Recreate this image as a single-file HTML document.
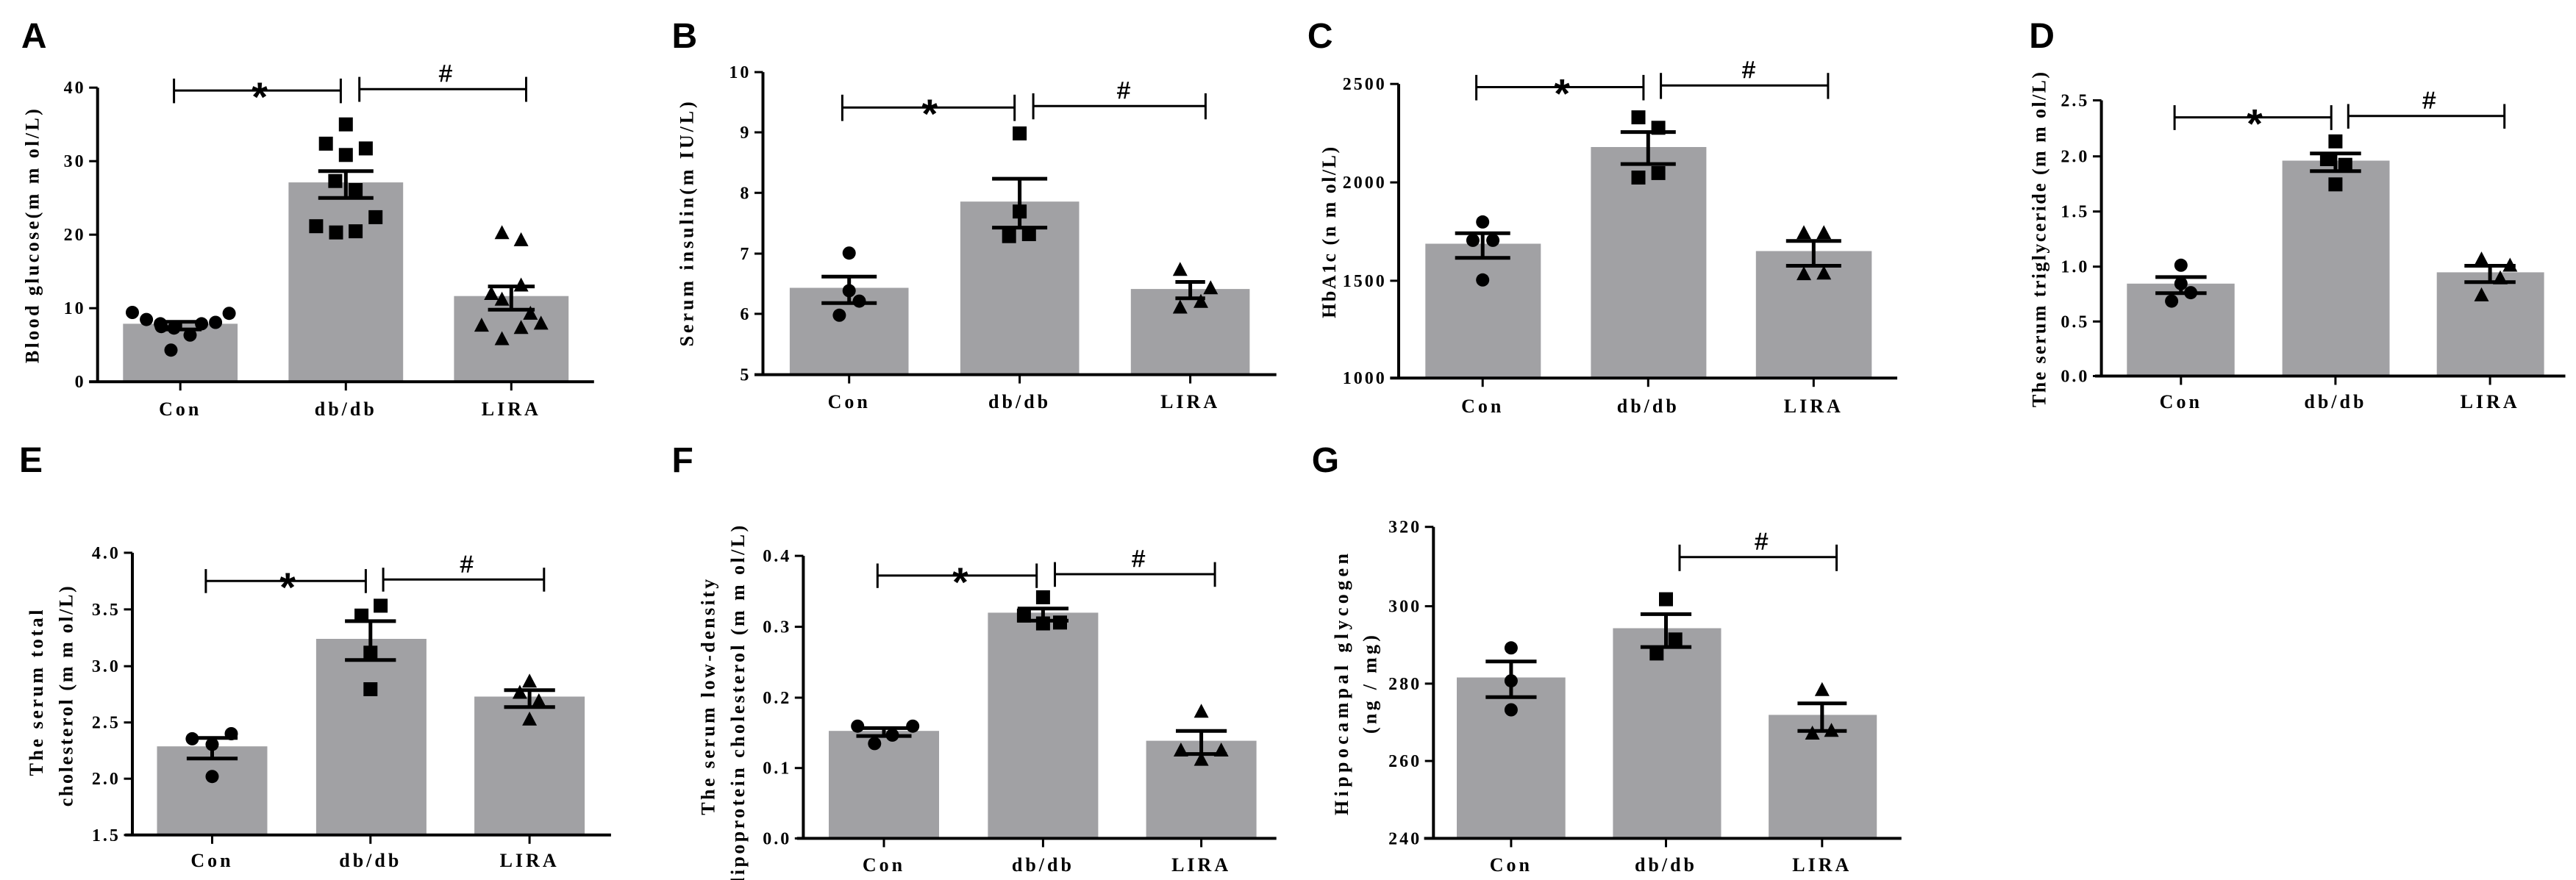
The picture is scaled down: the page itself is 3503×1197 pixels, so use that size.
<!DOCTYPE html>
<html><head><meta charset="utf-8"><style>
html,body{margin:0;padding:0;background:#fff;width:3503px;height:1197px;overflow:hidden}
svg{display:block}
</style></head><body>
<svg id="s" width="3503" height="1197" viewBox="0 0 3503 1197" xmlns="http://www.w3.org/2000/svg">
<rect width="3503" height="1197" fill="#fff"/>
</svg>
<script>
var P=[
{L:'A',ox:0,oy:0,fx:1.733,fy:2.6,lx:50,ax:230,yt:[[310,'40'],[570,'30'],[830,'20'],[1090,'10'],[1350,'0']],xa:[210,1400,1350],xt:[425,815,1205],
bars:[[290,560,1145],[680,950,645],[1070,1340,1047]],err:[[425,1138,1165,50],[815,605,700,65],[1205,1013,1095,55]],
c:[[312,1105],[345,1130],[378,1145],[410,1160],[448,1185],[475,1145],[508,1140],[540,1108],[403,1238],[380,1155]],
s:[[815,440],[768,508],[862,525],[815,548],[790,640],[838,672],[885,768],[745,800],[792,822],[838,818]],
t:[[1183,825],[1228,850],[1228,1010],[1158,1040],[1183,1060],[1250,1110],[1135,1152],[1228,1160],[1275,1145],[1183,1200]],
br:[[410,803,320,278,365,'*',612],[847,1240,315,272,360,'#',1050]],
yl:[['Blood glucose(m m ol/L)',75,385,1285]],cy:1445},
{L:'B',ox:850,oy:0,fx:1.733,fy:2.6,lx:110,ax:325,yt:[[255,'10'],[468,'9'],[682,'8'],[897,'7'],[1110,'6'],[1325,'5']],xa:[305,1535,1325],xt:[528,930,1332],
bars:[[388,668,1018],[790,1070,713],[1192,1472,1022]],err:[[528,978,1072,65],[930,632,805,65],[1332,997,1055,35]],
c:[[528,895],[528,1028],[552,1065],[505,1115]],s:[[930,472],[930,748],[905,835],[952,828]],t:[[1308,955],[1380,1020],[1357,1068],[1308,1088]],
br:[[512,918,380,335,428,'*',718],[962,1368,375,330,422,'#',1175]],
yl:[['Serum insulin(m IU/L)',145,360,1225]],cy:1420},
{L:'C',ox:1700,oy:0,fx:1.733,fy:2.6,lx:135,ax:350,yt:[[297,'2500'],[645,'2000'],[993,'1500'],[1337,'1000']],xa:[330,1525,1337],xt:[548,938,1328],
bars:[[413,685,862],[803,1075,520],[1192,1465,888]],err:[[548,825,912,65],[938,467,580,65],[1328,852,940,65]],
c:[[548,785],[525,850],[572,850],[548,990]],s:[[915,415],[962,452],[915,628],[962,612]],t:[[1305,825],[1352,825],[1305,970],[1352,968]],
br:[[533,927,308,265,355,'*',735],[968,1362,302,258,350,'#',1175]],
yl:[['HbA1c (n m ol/L)',185,520,1125]],cy:1435},
{L:'D',ox:2600,oy:0,fx:1.7276,fy:2.6,lx:275,ax:445,yt:[[355,'2.5'],[553,'2.0'],[748,'1.5'],[943,'1.0'],[1137,'0.5'],[1330,'0.0']],xa:[430,1535,1330],xt:[632,995,1358],
bars:[[505,758,1003],[870,1122,568],[1233,1485,963]],err:[[632,980,1037,60],[995,543,605,60],[1358,940,998,60]],
c:[[632,938],[632,1003],[655,1035],[610,1065]],s:[[995,500],[975,563],[1018,583],[995,652]],t:[[1338,918],[1405,940],[1382,985],[1338,1045]],
br:[[617,985,415,372,460,'*',805],[1025,1392,410,368,455,'#',1215]],
yl:[['The serum triglyceride (m m ol/L)',298,255,1440]],cy:1420},
{L:'E',ox:0,oy:600,fx:1.733,fy:2.613,lx:45,ax:312,yt:[[397,'4.0'],[598,'3.5'],[800,'3.0'],[1000,'2.5'],[1200,'2.0'],[1400,'1.5']],xa:[295,1440,1400],xt:[500,873,1248],
bars:[[370,630,1085],[745,1005,703],[1118,1378,908]],err:[[500,1055,1128,60],[873,640,778,60],[1248,885,945,60]],
c:[[453,1058],[545,1040],[500,1078],[500,1192]],s:[[852,620],[897,585],[873,752],[873,882]],t:[[1225,895],[1270,925],[1248,855],[1248,990]],
br:[[485,862,497,455,540,'*',678],[903,1282,492,450,535,'#',1100]],
yl:[['The serum total',85,600,1190],['cholesterol (m m ol/L)',155,515,1300]],cy:1490},
{L:'F',ox:850,oy:600,fx:1.733,fy:2.613,lx:110,ax:420,yt:[[408,'0.4'],[660,'0.3'],[912,'0.2'],[1162,'0.1'],[1412,'0.0']],xa:[405,1535,1412],xt:[610,985,1358],
bars:[[480,740,1030],[855,1115,610],[1228,1488,1065]],err:[[610,1020,1048,65],[985,595,638,60],[1358,1030,1112,60]],
c:[[548,1013],[678,1013],[630,1045],[588,1075]],s:[[985,555],[940,620],[1025,645],[985,648]],t:[[1358,962],[1310,1100],[1405,1100],[1358,1133]],
br:[[595,970,478,435,522,'*',790],[1013,1390,473,430,518,'#',1210]],
yl:[['The serum low-density',195,490,1330],['lipoprotein cholesterol (m m ol/L)',265,300,1570]],cy:1505},
{L:'G',ox:1700,oy:600,fx:1.733,fy:2.613,lx:145,ax:432,yt:[[305,'320'],[587,'300'],[862,'280'],[1137,'260'],[1412,'240']],xa:[410,1535,1412],xt:[615,980,1348],
bars:[[487,743,840],[855,1110,665],[1222,1477,973]],err:[[615,783,910,60],[980,615,732,60],[1348,932,1030,58]],
c:[[615,735],[615,852],[615,955]],s:[[980,562],[1002,705],[958,755]],t:[[1348,885],[1325,1040],[1370,1030]],
br:[[1012,1382,412,368,462,'#',1205]],
yl:[['Hippocampal glycogen',215,400,1330],['(ng / mg)',282,690,1040]],cy:1505}
];
var h='';var SF='font-family="Liberation Serif, serif" font-weight="bold"';
P.forEach(function(p){
 function X(z){return (p.ox+z/p.fx).toFixed(1)}
 function Y(z){return (p.oy+z/p.fy).toFixed(1)}
 var ly=p.oy+ (p.oy?42:65);
 h+='<text x="'+X(p.lx)+'" y="'+ly+'" font-family="Liberation Sans, sans-serif" font-weight="bold" font-size="48">'+p.L+'</text>';
 p.bars.forEach(function(b){h+='<rect x="'+X(b[0])+'" y="'+Y(b[2])+'" width="'+((b[1]-b[0])/p.fx).toFixed(1)+'" height="'+(Y(p.xa[2])-Y(b[2])).toFixed(1)+'" fill="#a1a1a4"/>';});
 h+='<line x1="'+X(p.ax)+'" y1="'+Y(p.yt[0][0])+'" x2="'+X(p.ax)+'" y2="'+Y(p.xa[2])+'" stroke="#000" stroke-width="4"/>';
 h+='<line x1="'+X(p.xa[0])+'" y1="'+Y(p.xa[2])+'" x2="'+X(p.xa[1])+'" y2="'+Y(p.xa[2])+'" stroke="#000" stroke-width="4"/>';
 p.yt.forEach(function(t){h+='<line x1="'+X(p.ax-20)+'" y1="'+Y(t[0])+'" x2="'+X(p.ax)+'" y2="'+Y(t[0])+'" stroke="#000" stroke-width="3"/>';
  h+='<text x="'+X(p.ax-28)+'" y="'+(+Y(t[0])+8)+'" text-anchor="end" '+SF+' font-size="24" letter-spacing="3">'+t[1]+'</text>';});
 var cats=['Con','db/db','LIRA'];
 p.xt.forEach(function(x,i){h+='<line x1="'+X(x)+'" y1="'+Y(p.xa[2])+'" x2="'+X(x)+'" y2="'+(+Y(p.xa[2])+12)+'" stroke="#000" stroke-width="3"/>';
  h+='<text x="'+X(x)+'" y="'+(+Y(p.cy)+9)+'" text-anchor="middle" '+SF+' font-size="26" letter-spacing="4">'+cats[i]+'</text>';});
 p.c.forEach(function(c){h+='<circle cx="'+X(c[0])+'" cy="'+Y(c[1])+'" r="9"/>';});
 p.s.forEach(function(c){h+='<rect x="'+(X(c[0])-9.5)+'" y="'+(Y(c[1])-9.5)+'" width="19" height="19"/>';});
 p.t.forEach(function(c){var x=+X(c[0]),y=+Y(c[1]);h+='<polygon points="'+x+','+(y-11)+' '+(x+10)+','+(y+8)+' '+(x-10)+','+(y+8)+'"/>';});
 p.err.forEach(function(e){h+='<line x1="'+X(e[0])+'" y1="'+Y(e[1])+'" x2="'+X(e[0])+'" y2="'+Y(e[2])+'" stroke="#000" stroke-width="5"/>';
  [e[1],e[2]].forEach(function(y){h+='<line x1="'+X(e[0]-e[3])+'" y1="'+Y(y)+'" x2="'+X(e[0]+e[3])+'" y2="'+Y(y)+'" stroke="#000" stroke-width="5"/>';});});
 p.br.forEach(function(b){h+='<line x1="'+X(b[0])+'" y1="'+Y(b[2])+'" x2="'+X(b[1])+'" y2="'+Y(b[2])+'" stroke="#000" stroke-width="3"/>';
  [b[0],b[1]].forEach(function(x){h+='<line x1="'+X(x)+'" y1="'+Y(b[3])+'" x2="'+X(x)+'" y2="'+Y(b[4])+'" stroke="#000" stroke-width="3"/>';});
  if(b[5]=='*')h+='<text x="'+X(b[6])+'" y="'+(+Y(b[2])+28)+'" text-anchor="middle" font-family="Liberation Sans, sans-serif" font-weight="bold" font-size="56">*</text>';
  else h+='<text x="'+X(b[6])+'" y="'+(+Y(b[2])-10)+'" text-anchor="middle" font-family="Liberation Sans, sans-serif" font-size="32" stroke="#000" stroke-width="0.6">#</text>';});
 p.yl.forEach(function(l){var cx=+X(l[1]),cy=(+Y(l[2])+ +Y(l[3]))/2,len=(l[3]-l[2])/p.fy;
  h+='<text transform="translate('+cx+','+cy+') rotate(-90)" x="0" y="9" text-anchor="middle" '+SF+' font-size="26" textLength="'+len.toFixed(0)+'" lengthAdjust="spacing">'+l[0]+'</text>';});
});
document.getElementById('s').insertAdjacentHTML('beforeend',h);
</script>
</body></html>
